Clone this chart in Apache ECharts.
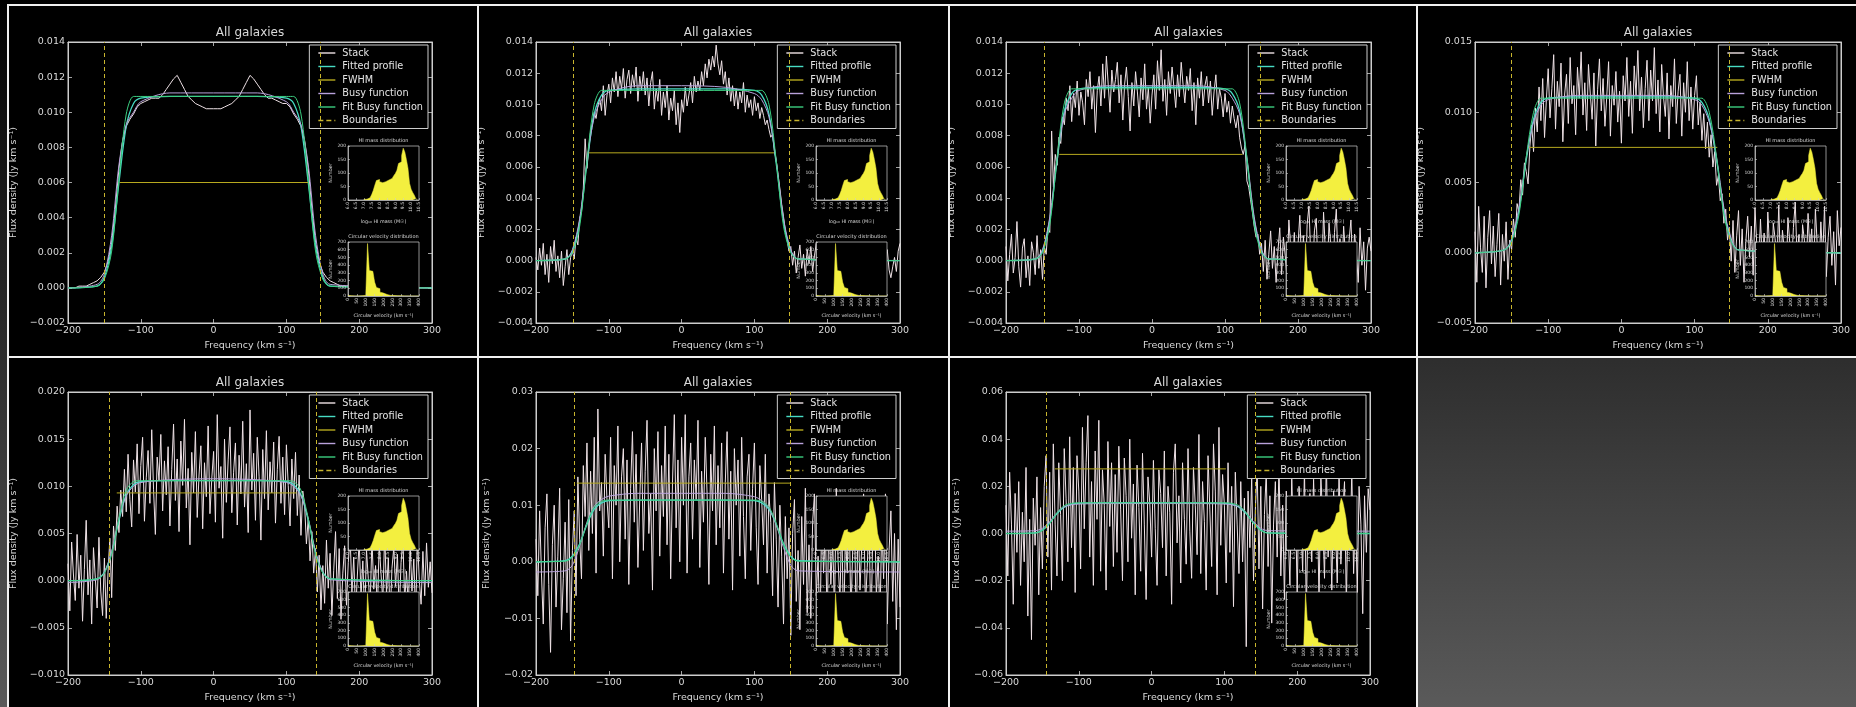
<!DOCTYPE html>
<html>
<head>
<meta charset="utf-8">
<title>All galaxies - stacked profiles</title>
<script src="https://cdn.jsdelivr.net/npm/echarts@6.0.0/dist/echarts.min.js"></script>
<style>
  html, body { margin: 0; padding: 0; }
  body {
    width: 1856px; height: 707px; overflow: hidden; position: relative;
    background: linear-gradient(to bottom, #000000 0%, #5a5a5a 100%);
  }
  .panel { position: absolute; box-sizing: border-box; border: 2px solid #f0f0f0; background: #000; }
  .panel .chart { position: absolute; left: 0; top: 0; right: 0; bottom: 0; }
</style>
</head>
<body>
<script>
// channel grids of the stacked spectra, km/s
var channelsCoarse = [];
for (var v = -200; v <= 300; v += 5) channelsCoarse.push(v);
var channelsFine = [];
for (var j = 0; j <= 200; j++) channelsFine.push(-200 + j * 2.5);

// noiseless stack of panel 1, on the 5 km/s grid
var stackP1 = [
  0.0000, 0.0000, 0.0000, 0.0001, 0.0001, 0.0001, 0.0002, 0.0003, 0.0004, 0.0006,
  0.0009, 0.0015, 0.0026, 0.0045, 0.0068, 0.0084, 0.0092, 0.0096, 0.0099, 0.0103,
  0.0105, 0.0106, 0.0107, 0.0108, 0.0108, 0.0108, 0.0110, 0.0113, 0.0116, 0.0119,
  0.0121, 0.0117, 0.0113, 0.0109, 0.0107, 0.0105, 0.0104, 0.0103, 0.0102, 0.0102,
  0.0102, 0.0102, 0.0102, 0.0103, 0.0104, 0.0105, 0.0107, 0.0109, 0.0113, 0.0117,
  0.0121, 0.0119, 0.0116, 0.0113, 0.0110, 0.0108, 0.0108, 0.0107, 0.0106, 0.0105,
  0.0105, 0.0103, 0.0099, 0.0096, 0.0092, 0.0084, 0.0068, 0.0045, 0.0026, 0.0015,
  0.0009, 0.0006, 0.0004, 0.0003, 0.0002, 0.0001, 0.0001, 0.0001, 0.0000, 0.0000,
  0.0000, 0.0000, 0.0000, 0.0000, 0.0000, 0.0000, 0.0000, 0.0000, 0.0000, 0.0000,
  0.0000, 0.0000, 0.0000, 0.0000, 0.0000, 0.0000, 0.0000, 0.0000, 0.0000, 0.0000,
  0.0000
];

// noisy stacks, on the 2.5 km/s grid (each row = 25 km/s)
var stackP2 = [
  0.0002, -0.0006, 0.0008, -0.0003, 0.0011, -0.0009, 0.0004, -0.0014, 0.0009, -0.0002,
  0.0013, -0.0007, 0.0003, -0.0011, 0.0006, -0.0016, -0.0004, 0.0007, -0.0009, 0.0002,
  0.0006, 0.0001, 0.0015, 0.0010, 0.0027, 0.0031, 0.0046, 0.0078, 0.0059, 0.0072,
  0.0083, 0.0088, 0.0095, 0.0091, 0.0099, 0.0104, 0.0096, 0.0112, 0.0093, 0.0106,
  0.0113, 0.0101, 0.0117, 0.0108, 0.0121, 0.0105, 0.0118, 0.0110, 0.0123, 0.0104,
  0.0116, 0.0122, 0.0107, 0.0119, 0.0111, 0.0124, 0.0102, 0.0118, 0.0109, 0.0121,
  0.0106, 0.0117, 0.0099, 0.0114, 0.0121, 0.0097, 0.0110, 0.0102, 0.0116, 0.0093,
  0.0108, 0.0098, 0.0112, 0.0090, 0.0104, 0.0096, 0.0109, 0.0087, 0.0101, 0.0082,
  0.0103, 0.0095, 0.0111, 0.0099, 0.0106, 0.0114, 0.0101, 0.0118, 0.0108, 0.0115,
  0.0109, 0.0121, 0.0112, 0.0126, 0.0117, 0.0129, 0.0122, 0.0131, 0.0124, 0.0138,
  0.0126, 0.0119, 0.0128, 0.0113, 0.0121, 0.0106, 0.0117, 0.0102, 0.0112, 0.0099,
  0.0110, 0.0097, 0.0108, 0.0101, 0.0114, 0.0095, 0.0106, 0.0098, 0.0103, 0.0093,
  0.0105, 0.0096, 0.0101, 0.0091, 0.0098, 0.0093, 0.0087, 0.0090, 0.0084, 0.0079,
  0.0081, 0.0070, 0.0064, 0.0055, 0.0046, 0.0036, 0.0028, 0.0019, 0.0013, 0.0006,
  0.0009, -0.0003, 0.0006, -0.0008, 0.0002, 0.0010, -0.0005, 0.0004, -0.0010, 0.0007,
  -0.0002, 0.0009, -0.0007, 0.0003, 0.0011, -0.0004, 0.0006, -0.0009, 0.0002, 0.0008,
  -0.0005, 0.0004, -0.0011, 0.0007, 0.0001, -0.0006, 0.0009, -0.0003, 0.0005, -0.0008,
  0.0006, -0.0002, 0.0010, -0.0007, 0.0003, -0.0004, 0.0008, -0.0009, 0.0001, 0.0005,
  -0.0006, 0.0009, -0.0003, 0.0004, -0.0010, 0.0006, 0.0002, -0.0007, 0.0008, -0.0002,
  0.0005, -0.0008, 0.0003, 0.0007, -0.0006, -0.0011, -0.0004, 0.0002, -0.0007, 0.0006,
  0.0011
];
var stackP3 = [
  0.0009, -0.0013, 0.0004, 0.0017, -0.0008, 0.0002, 0.0025, -0.0004, -0.0017, 0.0008,
  0.0014, -0.0011, 0.0003, -0.0016, 0.0012, 0.0005, -0.0009, 0.0016, -0.0005, 0.0007,
  -0.0012, 0.0009, 0.0004, 0.0021, 0.0018, 0.0083, 0.0047, 0.0068, 0.0061, 0.0079,
  0.0075, 0.0092, 0.0087, 0.0104, 0.0096, 0.0112, 0.0089, 0.0107, 0.0098, 0.0115,
  0.0093, 0.0108, 0.0101, 0.0087, 0.0116, 0.0105, 0.0121, 0.0097, 0.0112, 0.0082,
  0.0109, 0.0118, 0.0099, 0.0126, 0.0104, 0.0131, 0.0113, 0.0095, 0.0122, 0.0108,
  0.0116, 0.0127, 0.0101, 0.0119, 0.0090, 0.0113, 0.0124, 0.0105, 0.0083, 0.0114,
  0.0099, 0.0121, 0.0108, 0.0092, 0.0117, 0.0103, 0.0126, 0.0097, 0.0111, 0.0088,
  0.0106, 0.0119, 0.0097, 0.0128, 0.0109, 0.0135, 0.0102, 0.0116, 0.0093, 0.0121,
  0.0107, 0.0124, 0.0111, 0.0098, 0.0119, 0.0105, 0.0127, 0.0113, 0.0101, 0.0118,
  0.0109, 0.0123, 0.0096, 0.0114, 0.0087, 0.0117, 0.0104, 0.0121, 0.0099, 0.0112,
  0.0118, 0.0101, 0.0115, 0.0093, 0.0108, 0.0119, 0.0097, 0.0110, 0.0104, 0.0092,
  0.0107, 0.0095, 0.0102, 0.0088, 0.0099, 0.0091, 0.0085, 0.0093, 0.0079, 0.0072,
  0.0068, 0.0074, 0.0051, 0.0047, 0.0039, 0.0031, 0.0022, 0.0015, 0.0017, 0.0004,
  0.0011, -0.0007, 0.0013, -0.0012, 0.0004, 0.0019, -0.0005, 0.0009, -0.0014, 0.0006,
  0.0021, -0.0009, 0.0015, 0.0003, -0.0011, 0.0026, 0.0008, -0.0006, 0.0018, -0.0013,
  0.0010, 0.0029, -0.0004, 0.0016, -0.0015, 0.0023, 0.0035, 0.0002, -0.0009, 0.0019,
  0.0027, -0.0007, 0.0012, -0.0013, 0.0031, 0.0006, -0.0010, 0.0024, 0.0009, -0.0016,
  0.0018, 0.0033, -0.0005, 0.0014, -0.0011, 0.0022, 0.0004, -0.0017, 0.0013, 0.0026,
  -0.0008, 0.0017, 0.0005, -0.0014, 0.0021, -0.0003, 0.0012, -0.0019, 0.0008, 0.0015,
  0.0006
];
var stackP4 = [
  0.0015, -0.0021, 0.0033, 0.0004, -0.0014, 0.0026, -0.0025, 0.0011, 0.0030, -0.0008,
  0.0019, -0.0017, 0.0006, 0.0028, -0.0023, 0.0013, -0.0006, 0.0022, -0.0019, 0.0009,
  0.0002, 0.0024, 0.0011, 0.0035, 0.0029, 0.0052, 0.0041, 0.0064, 0.0058, 0.0049,
  0.0076, 0.0091, 0.0072, 0.0103, 0.0086, 0.0118, 0.0094, 0.0124, 0.0082, 0.0109,
  0.0131, 0.0096, 0.0117, 0.0141, 0.0088, 0.0122, 0.0104, 0.0135, 0.0079, 0.0113,
  0.0127, 0.0092, 0.0139, 0.0106, 0.0119, 0.0084, 0.0132, 0.0110, 0.0143, 0.0098,
  0.0121, 0.0087, 0.0134, 0.0113, 0.0095, 0.0128, 0.0076, 0.0116, 0.0138, 0.0101,
  0.0124, 0.0090, 0.0111, 0.0136, 0.0083, 0.0119, 0.0105, 0.0129, 0.0093, 0.0115,
  0.0078, 0.0126, 0.0108, 0.0139, 0.0097, 0.0122, 0.0085, 0.0133, 0.0112, 0.0144,
  0.0101, 0.0125, 0.0089, 0.0117, 0.0137, 0.0094, 0.0130, 0.0108, 0.0146, 0.0099,
  0.0123, 0.0086, 0.0134, 0.0111, 0.0097, 0.0128, 0.0081, 0.0119, 0.0104, 0.0138,
  0.0092, 0.0115, 0.0127, 0.0083, 0.0121, 0.0100, 0.0136, 0.0094, 0.0118, 0.0088,
  0.0112, 0.0126, 0.0091, 0.0107, 0.0080, 0.0099, 0.0074, 0.0093, 0.0068, 0.0084,
  0.0061, 0.0072, 0.0048, 0.0055, 0.0037, 0.0042, 0.0021, 0.0031, 0.0009, 0.0018,
  -0.0006, 0.0023, -0.0014, 0.0012, 0.0030, -0.0009, 0.0017, -0.0021, 0.0008, 0.0026,
  -0.0003, 0.0019, -0.0016, 0.0032, 0.0005, -0.0011, 0.0024, -0.0007, 0.0014, -0.0022,
  0.0029, 0.0003, -0.0018, 0.0021, 0.0010, -0.0008, 0.0034, -0.0013, 0.0016, 0.0002,
  -0.0020, 0.0025, 0.0007, -0.0010, 0.0018, 0.0036, -0.0005, 0.0013, -0.0024, 0.0020,
  0.0009, -0.0015, 0.0028, 0.0001, 0.0017, -0.0019, 0.0031, 0.0006, -0.0012, 0.0022,
  -0.0004, 0.0033, -0.0017, 0.0011, 0.0026, -0.0009, 0.0015, -0.0023, 0.0030, 0.0005,
  0.0018
];
var stackP5 = [
  0.0018, -0.0032, 0.0041, 0.0006, -0.0021, 0.0049, -0.0008, 0.0027, -0.0043, 0.0012,
  0.0064, -0.0015, 0.0022, -0.0046, 0.0035, 0.0003, -0.0029, 0.0046, -0.0011, -0.0037,
  0.0024, -0.0040, 0.0009, 0.0045, -0.0018, 0.0058, 0.0032, 0.0079, 0.0051, 0.0096,
  0.0068, 0.0118, 0.0073, 0.0134, 0.0086, 0.0057, 0.0128, 0.0094, 0.0145, 0.0071,
  0.0122, 0.0152, 0.0063, 0.0109, 0.0138, 0.0082, 0.0160, 0.0097, 0.0049, 0.0131,
  0.0106, 0.0155, 0.0074, 0.0127, 0.0091, 0.0142, 0.0058, 0.0118, 0.0166, 0.0085,
  0.0129, 0.0052, 0.0148, 0.0101, 0.0171, 0.0077, 0.0119, 0.0038, 0.0136, 0.0093,
  0.0158, 0.0067, 0.0112, 0.0143, 0.0055, 0.0125, 0.0089, 0.0164, 0.0071, 0.0108,
  0.0137, 0.0062, 0.0176, 0.0098, 0.0121, 0.0045, 0.0150, 0.0083, 0.0128, 0.0163,
  0.0072, 0.0115, 0.0146, 0.0059, 0.0133, 0.0092, 0.0169, 0.0078, 0.0124, 0.0051,
  0.0181, 0.0096, 0.0135, 0.0064, 0.0152, 0.0110, 0.0043, 0.0139, 0.0087, 0.0159,
  0.0075, 0.0126, 0.0093, 0.0147, 0.0061, 0.0118, 0.0153, 0.0082, 0.0131, 0.0070,
  0.0144, 0.0101, 0.0058, 0.0129, 0.0087, 0.0136, 0.0069, 0.0112, 0.0048, 0.0095,
  0.0081, 0.0039, 0.0066, 0.0021, 0.0052, 0.0008, 0.0034, -0.0012, 0.0027, -0.0031,
  0.0016, -0.0024, 0.0043, -0.0008, 0.0029, -0.0037, 0.0011, 0.0052, -0.0019, 0.0034,
  -0.0041, 0.0008, 0.0037, -0.0026, 0.0019, 0.0048, -0.0013, 0.0025, -0.0034, 0.0006,
  0.0042, -0.0017, 0.0021, -0.0039, 0.0033, 0.0002, -0.0028, 0.0045, -0.0009, 0.0016,
  -0.0032, 0.0039, 0.0007, -0.0022, 0.0051, -0.0014, 0.0024, -0.0040, 0.0013, 0.0035,
  -0.0006, 0.0028, -0.0035, 0.0019, 0.0044, -0.0021, 0.0010, -0.0029, 0.0038, -0.0011,
  0.0023, -0.0038, 0.0047, 0.0001, -0.0025, 0.0031, -0.0016, 0.0040, -0.0007, 0.0020,
  -0.0013
];
var stackP6 = [
  0.004, -0.006, 0.009, -0.002, -0.011, 0.006, 0.012, -0.004, -0.016, 0.003,
  0.010, -0.008, 0.001, 0.013, -0.012, -0.003, 0.007, -0.009, 0.011, -0.014,
  0.002, 0.009, -0.006, 0.015, 0.004, -0.003, 0.017, 0.008, 0.021, 0.002,
  0.016, 0.005, 0.022, -0.002, 0.027, 0.009, 0.014, 0.001, 0.019, 0.011,
  0.006, 0.022, -0.003, 0.017, 0.010, 0.024, 0.000, 0.015, 0.020, 0.004,
  0.018, -0.004, 0.013, 0.023, 0.007, 0.019, -0.001, 0.011, 0.021, 0.002,
  0.016, 0.025, 0.005, 0.012, -0.005, 0.020, 0.009, 0.023, 0.001, 0.017,
  0.008, 0.024, 0.003, 0.019, -0.003, 0.014, 0.026, 0.006, 0.018, 0.000,
  0.022, 0.010, 0.026, -0.002, 0.015, 0.021, 0.004, 0.018, 0.011, 0.025,
  -0.001, 0.016, 0.007, 0.022, 0.012, -0.004, 0.019, 0.009, 0.024, 0.003,
  0.017, 0.006, 0.021, -0.002, 0.014, 0.023, 0.004, 0.016, -0.005, 0.020,
  0.010, 0.018, 0.001, 0.022, 0.008, -0.003, 0.015, 0.019, 0.002, 0.013,
  0.021, 0.006, -0.004, 0.017, 0.011, 0.003, 0.019, -0.002, 0.012, 0.007,
  -0.006, 0.014, 0.004, -0.008, 0.010, 0.001, -0.011, 0.008, -0.003, 0.006,
  -0.013, 0.005, 0.011, -0.007, 0.002, -0.012, 0.008, -0.004, 0.013, -0.009,
  0.003, -0.010, 0.007, 0.012, -0.006, 0.001, -0.014, 0.009, -0.002, 0.006,
  -0.011, 0.010, -0.004, 0.004, -0.009, 0.013, 0.000, -0.007, 0.008, -0.013,
  0.005, -0.002, 0.011, -0.010, 0.002, 0.007, -0.012, 0.009, -0.005, 0.003,
  0.012, -0.008, -0.001, 0.008, -0.013, 0.004, 0.010, -0.006, 0.001, -0.010,
  0.007, -0.003, 0.012, -0.011, 0.002, 0.009, -0.007, 0.005, -0.012, 0.004,
  -0.008
];
var stackP7 = [
  0.012, -0.018, 0.026, 0.004, -0.030, 0.017, -0.008, 0.022, -0.022, 0.009,
  -0.012, 0.028, -0.035, 0.006, -0.045, 0.015, -0.005, 0.024, -0.026, 0.011,
  -0.015, 0.020, 0.033, -0.010, 0.026, -0.024, 0.038, 0.004, -0.018, 0.030,
  0.008, -0.020, 0.036, 0.015, -0.012, 0.041, -0.006, 0.028, -0.025, 0.033,
  0.018, -0.015, 0.045, 0.002, 0.030, 0.050, -0.010, 0.022, -0.022, 0.035,
  0.006, 0.048, -0.016, 0.027, 0.012, -0.024, 0.039, 0.003, 0.030, -0.014,
  0.025, -0.008, 0.037, 0.010, -0.020, 0.032, 0.016, -0.012, 0.040, -0.002,
  0.021, -0.026, 0.029, 0.011, -0.016, 0.034, 0.004, -0.028, 0.024, 0.013,
  -0.010, 0.031, 0.002, -0.022, 0.027, 0.017, -0.006, 0.035, -0.018, 0.020,
  0.009, -0.030, 0.026, 0.038, -0.004, 0.016, -0.021, 0.030, 0.006, -0.013,
  0.036, 0.001, -0.019, 0.028, 0.012, -0.009, 0.042, -0.017, 0.022, 0.005,
  -0.024, 0.033, 0.010, -0.014, 0.038, 0.018, -0.026, 0.045, -0.005, 0.025,
  0.012, -0.021, 0.030, -0.008, 0.020, -0.031, 0.026, 0.004, -0.017, 0.022,
  -0.012, 0.015, -0.048, 0.018, -0.006, 0.024, -0.020, 0.010, 0.028, -0.015,
  0.020, -0.032, 0.008, 0.026, -0.014, 0.016, -0.038, 0.004, 0.022, -0.010,
  0.030, -0.018, 0.012, -0.028, 0.018, 0.002, -0.022, 0.025, -0.006, 0.014,
  -0.026, 0.020, 0.006, -0.016, 0.028, -0.034, 0.010, 0.017, -0.012, 0.023,
  -0.004, 0.015, -0.029, 0.024, 0.007, -0.019, 0.031, -0.010, 0.012, -0.024,
  0.018, 0.003, -0.021, 0.027, -0.013, 0.009, 0.022, -0.030, 0.014, -0.006,
  0.026, -0.017, 0.011, -0.025, 0.020, 0.004, -0.034, 0.016, -0.008, 0.019,
  0.010
];

// smooth model curves, sampled at these velocities
var profileFreq = [-200, -160, -150, -140, -130, -120, -110, -100, -60, 0, 60, 100, 110, 120, 130, 140, 150, 160, 300];

var fittedP1  = [0, 0.0001, 0.0006, 0.0024, 0.0060, 0.0092, 0.0105, 0.0108, 0.0109, 0.0109, 0.0109, 0.0108, 0.0105, 0.0092, 0.0060, 0.0024, 0.0006, 0.0001, 0];
var busyP1    = [0, 0.0002, 0.0008, 0.0030, 0.0070, 0.0093, 0.0100, 0.0106, 0.0111, 0.0111, 0.0111, 0.0106, 0.0100, 0.0093, 0.0070, 0.0030, 0.0008, 0.0002, 0];
var fitBusyP1 = [0, 0.0001, 0.0005, 0.0021, 0.0062, 0.0099, 0.0109, 0.0109, 0.0109, 0.0109, 0.0109, 0.0109, 0.0109, 0.0099, 0.0062, 0.0021, 0.0005, 0.0001, 0];

var fittedP2  = [0, 0.0001, 0.0006, 0.0025, 0.0062, 0.0094, 0.0106, 0.0109, 0.0110, 0.0110, 0.0110, 0.0109, 0.0106, 0.0094, 0.0062, 0.0025, 0.0006, 0.0001, 0];
var busyP2    = [0, 0.0001, 0.0007, 0.0027, 0.0064, 0.0092, 0.0103, 0.0108, 0.0112, 0.0112, 0.0111, 0.0107, 0.0103, 0.0092, 0.0064, 0.0027, 0.0007, 0.0001, 0];
var fitBusyP2 = [0, 0.0001, 0.0005, 0.0022, 0.0064, 0.0100, 0.0109, 0.0109, 0.0109, 0.0109, 0.0109, 0.0109, 0.0109, 0.0100, 0.0064, 0.0022, 0.0005, 0.0001, 0];

var fittedP3  = [0, 0.0001, 0.0006, 0.0026, 0.0064, 0.0096, 0.0107, 0.0110, 0.0111, 0.0111, 0.0111, 0.0110, 0.0107, 0.0096, 0.0064, 0.0026, 0.0006, 0.0001, 0];
var busyP3    = [0, 0.0001, 0.0007, 0.0028, 0.0066, 0.0094, 0.0104, 0.0109, 0.0112, 0.0112, 0.0112, 0.0109, 0.0104, 0.0094, 0.0066, 0.0028, 0.0007, 0.0001, 0];
var fitBusyP3 = [0, 0.0001, 0.0005, 0.0023, 0.0066, 0.0101, 0.0110, 0.0110, 0.0110, 0.0110, 0.0110, 0.0110, 0.0110, 0.0101, 0.0066, 0.0023, 0.0005, 0.0001, 0];

var fittedP4  = [0, 0.0002, 0.0009, 0.0030, 0.0066, 0.0095, 0.0107, 0.0110, 0.0111, 0.0111, 0.0111, 0.0110, 0.0107, 0.0095, 0.0066, 0.0030, 0.0009, 0.0002, 0];
var busyP4    = [0, 0.0002, 0.0010, 0.0032, 0.0068, 0.0093, 0.0105, 0.0109, 0.0112, 0.0112, 0.0112, 0.0109, 0.0105, 0.0093, 0.0068, 0.0032, 0.0010, 0.0002, 0];
var fitBusyP4 = [0, 0.0002, 0.0008, 0.0027, 0.0068, 0.0100, 0.0110, 0.0110, 0.0110, 0.0110, 0.0110, 0.0110, 0.0110, 0.0100, 0.0068, 0.0027, 0.0008, 0.0002, 0];

var fittedP5  = [0, 0.0002, 0.0009, 0.0030, 0.0064, 0.0091, 0.0102, 0.0105, 0.0106, 0.0106, 0.0106, 0.0105, 0.0102, 0.0091, 0.0064, 0.0030, 0.0009, 0.0002, 0];
var busyP5    = [-0.0002, 0.0001, 0.0009, 0.0031, 0.0066, 0.0090, 0.0100, 0.0104, 0.0107, 0.0108, 0.0107, 0.0104, 0.0100, 0.0090, 0.0066, 0.0031, 0.0009, 0.0001, -0.0002];
var fitBusyP5 = [0, 0.0002, 0.0008, 0.0028, 0.0066, 0.0096, 0.0105, 0.0106, 0.0106, 0.0106, 0.0106, 0.0106, 0.0105, 0.0096, 0.0066, 0.0028, 0.0008, 0.0002, 0];

var fittedP6  = [0, 0.0002, 0.0010, 0.0032, 0.0066, 0.0093, 0.0104, 0.0108, 0.0109, 0.0109, 0.0109, 0.0108, 0.0104, 0.0093, 0.0066, 0.0032, 0.0010, 0.0002, 0];
var busyP6    = [-0.0018, -0.0016, -0.0006, 0.0028, 0.0070, 0.0098, 0.0110, 0.0116, 0.0121, 0.0121, 0.0121, 0.0115, 0.0108, 0.0095, 0.0065, 0.0025, -0.0006, -0.0016, -0.0018];
var fitBusyP6 = [0, 0.0001, 0.0008, 0.0030, 0.0068, 0.0097, 0.0107, 0.0109, 0.0109, 0.0109, 0.0109, 0.0109, 0.0107, 0.0097, 0.0068, 0.0030, 0.0008, 0.0001, 0];

var fittedP7  = [0, 0.0003, 0.0015, 0.0045, 0.0085, 0.0112, 0.0124, 0.0128, 0.0130, 0.0130, 0.0130, 0.0128, 0.0124, 0.0112, 0.0085, 0.0045, 0.0015, 0.0003, 0];
var busyP7    = [0.0010, 0.0012, 0.0022, 0.0050, 0.0088, 0.0113, 0.0122, 0.0125, 0.0127, 0.0127, 0.0127, 0.0125, 0.0122, 0.0113, 0.0088, 0.0050, 0.0022, 0.0012, 0.0010];
var fitBusyP7 = [0, 0.0002, 0.0012, 0.0042, 0.0088, 0.0118, 0.0128, 0.0130, 0.0130, 0.0130, 0.0130, 0.0130, 0.0128, 0.0118, 0.0088, 0.0042, 0.0012, 0.0002, 0];

// FWHM level and its edges, boundaries (panels 1..7)
var fwhmLevel  = [0.0060, 0.0069, 0.0068, 0.0075, 0.0093, 0.0139, 0.0274];
var fwhmLeft   = [-129, -128, -127, -126, -133, -144, -133];
var fwhmRight  = [130, 127, 124, 131, 114, 150, 102];
var boundLeft  = [-150, -149, -147, -150, -143, -147, -145];
var boundRight = [147, 148, 148, 148, 141, 149, 142];

// y ranges of the panels
var yMin  = [-0.002, -0.004, -0.004, -0.005, -0.010, -0.02, -0.06];
var yMax  = [0.014, 0.014, 0.014, 0.015, 0.020, 0.03, 0.06];
var yStep = [0.002, 0.002, 0.002, 0.005, 0.005, 0.01, 0.02];

// inset histograms
var massEdges = [7.0, 7.1, 7.2, 7.3, 7.4, 7.5, 7.6, 7.7, 7.8, 7.9, 8.0, 8.1, 8.2, 8.3, 8.4, 8.5, 8.6, 8.7,
                 8.8, 8.9, 9.0, 9.1, 9.2, 9.3, 9.4, 9.5, 9.6, 9.7, 9.8, 9.9, 10.0, 10.1, 10.2, 10.3, 10.4];
var massCounts = [2, 3, 5, 8, 12, 20, 35, 55, 72, 76, 68, 64, 66, 68, 70, 74, 76, 80,
                  84, 90, 98, 110, 135, 142, 165, 192, 178, 150, 118, 62, 40, 28, 18, 5];
var velEdges = [0, 10, 20, 30, 40, 50, 60, 70, 80, 90, 100, 110, 120, 130, 140, 150, 160, 170, 180, 190, 200,
                210, 220, 230, 240, 250, 260, 270, 280, 290, 300, 310, 320, 330, 340, 350, 360, 370, 380, 390, 400];
var velCounts = [8, 2, 1, 0, 0, 1, 1, 2, 3, 6, 25, 680, 330, 320, 300, 180, 110, 95, 50, 38,
                 28, 20, 12, 8, 6, 5, 4, 3, 2, 2, 1, 1, 0, 1, 0, 0, 0, 0, 0, 0];

var FONT = '"DejaVu Sans", "Liberation Sans", sans-serif';
var TXT = '#d9d9d9';
var FRAME = '#cdcdcd';
var COL = {stack: '#efe2e6', fitted: '#47dcc4', fwhm: '#b7a91f', busy: '#b9a2dc',
           fitBusy: '#3ccf80', bound: '#c8b52e', hist: '#f3ef3f'};

var LINE_ICON = 'rect';
var DASH_ICON = 'path://M0,0h5v1h-5z M8,0h5v1h-5z M16,0h1v1h-1z';
var legendData = [
  {name: 'Stack', icon: LINE_ICON},
  {name: 'Fitted profile', icon: LINE_ICON},
  {name: 'FWHM', icon: LINE_ICON},
  {name: 'Busy function', icon: LINE_ICON},
  {name: 'Fit Busy function', icon: LINE_ICON},
  {name: 'Boundaries', icon: DASH_ICON}
];

var panels = [
  {box: [7, 4, 472, 354],    grid: [59, 36, 364, 281], freq: channelsCoarse, stack: stackP1, fitted: fittedP1, busy: busyP1, fitBusy: fitBusyP1, k: 0, dec: 3},
  {box: [477, 4, 473, 354],  grid: [57, 36, 364, 281], freq: channelsFine, stack: stackP2, fitted: fittedP2, busy: busyP2, fitBusy: fitBusyP2, k: 1, dec: 3},
  {box: [948, 4, 470, 354],  grid: [56, 36, 365, 281], freq: channelsFine, stack: stackP3, fitted: fittedP3, busy: busyP3, fitBusy: fitBusyP3, k: 2, dec: 3},
  {box: [1416, 4, 445, 354], grid: [57, 36, 366, 281], freq: channelsFine, stack: stackP4, fitted: fittedP4, busy: busyP4, fitBusy: fitBusyP4, k: 3, dec: 3},
  {box: [7, 356, 472, 354],  grid: [59, 34, 364, 283], freq: channelsFine, stack: stackP5, fitted: fittedP5, busy: busyP5, fitBusy: fitBusyP5, k: 4, dec: 3},
  {box: [477, 356, 473, 354],grid: [57, 34, 364, 283], freq: channelsFine, stack: stackP6, fitted: fittedP6, busy: busyP6, fitBusy: fitBusyP6, k: 5, dec: 2},
  {box: [948, 356, 470, 354],grid: [56, 34, 364, 283], freq: channelsFine, stack: stackP7, fitted: fittedP7, busy: busyP7, fitBusy: fitBusyP7, k: 6, dec: 2}
];

function pairs(xs, ys) {
  var out = [];
  for (var i = 0; i < ys.length; i++) out.push([xs[i], ys[i]]);
  return out;
}
function histPairs(edges, counts) {
  var out = pairs(edges, counts);
  out.push([edges[edges.length - 1], 0]);
  return out;
}
function fmt(dec) {
  return function (v) {
    var s = Math.abs(v).toFixed(dec);
    if (v < 0 && Number(s) !== 0) s = '\u2212' + s;
    return s;
  };
}

function insetAxis(grid, min, max, step, dec, name, gap, rotate) {
  return {
    gridIndex: grid, type: 'value', min: min, max: max, interval: step, z: 6,
    axisLine: {show: true, onZero: false, lineStyle: {color: FRAME, width: 0.7}},
    axisTick: {show: true, inside: true, length: 2, lineStyle: {color: FRAME, width: 0.6}},
    axisLabel: {color: TXT, fontSize: 4.5, fontFamily: FONT, margin: 2, rotate: rotate, formatter: fmt(dec)},
    splitLine: {show: false},
    name: name, nameLocation: 'middle', nameGap: gap,
    nameTextStyle: {color: TXT, fontSize: 4.8, fontFamily: FONT}
  };
}

var draw_panel = function (p) {
  var box = document.createElement('div');
  box.className = 'panel';
  box.style.left = p.box[0] + 'px';
  box.style.top = p.box[1] + 'px';
  box.style.width = p.box[2] + 'px';
  box.style.height = p.box[3] + 'px';
  var holder = document.createElement('div');
  holder.className = 'chart';
  box.appendChild(holder);
  document.body.appendChild(box);

  var k = p.k;
  var gl = p.grid[0], gt = p.grid[1], gw = p.grid[2], gh = p.grid[3];
  var W = p.box[2] - 4;
  var insL = gl + 280, insW = 71, insH = 54, ins1T = gt + 104, ins2T = gt + 200;

  var myChart = echarts.init(holder);

  var grid = [
    {left: gl, top: gt, width: gw, height: gh, show: true, borderColor: FRAME, borderWidth: 1,
     backgroundColor: 'transparent', containLabel: false, outerBoundsMode: 'none'},
    {left: insL, top: ins1T, width: insW, height: insH, show: true, borderColor: FRAME, borderWidth: 0.7,
     backgroundColor: '#000', z: 5, containLabel: false, outerBoundsMode: 'none'},
    {left: insL, top: ins2T, width: insW, height: insH, show: true, borderColor: FRAME, borderWidth: 0.7,
     backgroundColor: '#000', z: 5, containLabel: false, outerBoundsMode: 'none'}
  ];

  var tick = {show: true, inside: true, length: 4, lineStyle: {color: FRAME, width: 0.8}};
  var frameLine = {show: true, onZero: false, lineStyle: {color: FRAME, width: 1}};

  var xAxis = [
    {gridIndex: 0, type: 'value', position: 'bottom', min: -200, max: 300, interval: 100,
     axisLine: frameLine, axisTick: tick, splitLine: {show: false},
     axisLabel: {color: TXT, fontSize: 9.5, fontFamily: FONT, margin: 3, formatter: fmt(0)},
     name: 'Frequency (km s\u207B\u00B9)', nameLocation: 'middle', nameGap: 15,
     nameTextStyle: {color: TXT, fontSize: 9.5, fontFamily: FONT}},
    {gridIndex: 0, type: 'value', position: 'top', min: -200, max: 300, interval: 100,
     axisLine: frameLine, axisTick: tick, axisLabel: {show: false}, splitLine: {show: false}},
    insetAxis(1, 6.0, 10.5, 0.5, 1, 'log\u2081\u2080 HI mass (M\u2609)', 19, 90),
    insetAxis(2, 0, 400, 50, 0, 'Circular velocity (km s\u207B\u00B9)', 17, 90)
  ];

  var yAxis = [
    {gridIndex: 0, type: 'value', position: 'left', min: yMin[k], max: yMax[k], interval: yStep[k],
     axisLine: frameLine, axisTick: tick, splitLine: {show: false},
     axisLabel: {color: TXT, fontSize: 9.5, fontFamily: FONT, margin: 3, formatter: fmt(p.dec)},
     name: 'Flux density (Jy km s\u207B\u00B9)', nameLocation: 'middle', nameGap: 44,
     nameTextStyle: {color: TXT, fontSize: 9.5, fontFamily: FONT}},
    {gridIndex: 0, type: 'value', position: 'right', min: yMin[k], max: yMax[k], interval: yStep[k],
     axisLine: frameLine, axisTick: tick, axisLabel: {show: false}, splitLine: {show: false}},
    insetAxis(1, 0, 200, 50, 0, 'Number', 13, 0),
    insetAxis(2, 0, 700, 100, 0, 'Number', 13, 0)
  ];

  var lineOf = function (name, data, color, width, smooth) {
    return {name: name, type: 'line', xAxisIndex: 0, yAxisIndex: 0, data: data,
            symbol: 'none', smooth: smooth, silent: true,
            itemStyle: {color: color},
            lineStyle: {color: color, width: width}};
  };

  var series = [
    lineOf('Stack', pairs(p.freq, p.stack), COL.stack, 1, false),
    lineOf('Fitted profile', pairs(profileFreq, p.fitted), COL.fitted, 1.3, 0.3),
    lineOf('FWHM', [[fwhmLeft[k], fwhmLevel[k]], [fwhmRight[k], fwhmLevel[k]]], COL.fwhm, 1, false),
    lineOf('Busy function', pairs(profileFreq, p.busy), COL.busy, 1, 0.3),
    lineOf('Fit Busy function', pairs(profileFreq, p.fitBusy), COL.fitBusy, 1, 0.3),
    {name: 'Boundaries', type: 'line', xAxisIndex: 0, yAxisIndex: 0, data: [], symbol: 'none',
     itemStyle: {color: COL.bound},
     lineStyle: {color: COL.bound, width: 1, type: [4, 3]},
     markLine: {symbol: ['none', 'none'], silent: true, label: {show: false},
                lineStyle: {color: COL.bound, width: 1, type: [4, 3]},
                data: [{xAxis: boundLeft[k]}, {xAxis: boundRight[k]}]}},
    {name: 'HI mass', type: 'line', xAxisIndex: 2, yAxisIndex: 2, step: 'end', z: 6, symbol: 'none', silent: true,
     data: histPairs(massEdges, massCounts),
     lineStyle: {color: COL.hist, width: 0.5}, areaStyle: {color: COL.hist, opacity: 1}},
    {name: 'Circular velocity', type: 'line', xAxisIndex: 3, yAxisIndex: 3, step: 'end', z: 6, symbol: 'none', silent: true,
     data: histPairs(velEdges, velCounts),
     lineStyle: {color: COL.hist, width: 0.5}, areaStyle: {color: COL.hist, opacity: 1}}
  ];

  var legend = {
    data: legendData, orient: 'vertical', selectedMode: false,
    right: W - (gl + gw - 4), top: gt + 3,
    backgroundColor: '#000', borderColor: FRAME, borderWidth: 1, borderRadius: 0,
    padding: [3, 5, 3, 9], itemGap: 3.5, itemWidth: 17, itemHeight: 1.4,
    symbolKeepAspect: false,
    itemStyle: {borderWidth: 0},
    textStyle: {color: '#e4e4e4', fontSize: 9.7, fontFamily: FONT, padding: [0, 0, 0, 2]}
  };

  var textStyle = function (txt, size, x, y) {
    return {type: 'text', x: x, y: y, z: 20, silent: true,
            style: {text: txt, fill: TXT, font: size + 'px ' + FONT,
                    align: 'center', verticalAlign: 'middle',
                    textAlign: 'center', textVerticalAlign: 'middle'}};
  };

  var graphic = [
    textStyle('All galaxies', 12, gl + gw / 2, gt - 9),
    textStyle('HI mass distribution', 5, insL + insW / 2, ins1T - 5),
    textStyle('Circular velocity distribution', 5, insL + insW / 2, ins2T - 5)
  ];

  var option = {
    animation: false,
    backgroundColor: '#000',
    textStyle: {fontFamily: FONT},
    grid: grid,
    xAxis: xAxis,
    yAxis: yAxis,
    legend: legend,
    graphic: graphic,
    series: series
  };

  myChart.setOption(option);
};

for (var i = 0; i < panels.length; i++) draw_panel(panels[i]);
</script>
</body>
</html>
